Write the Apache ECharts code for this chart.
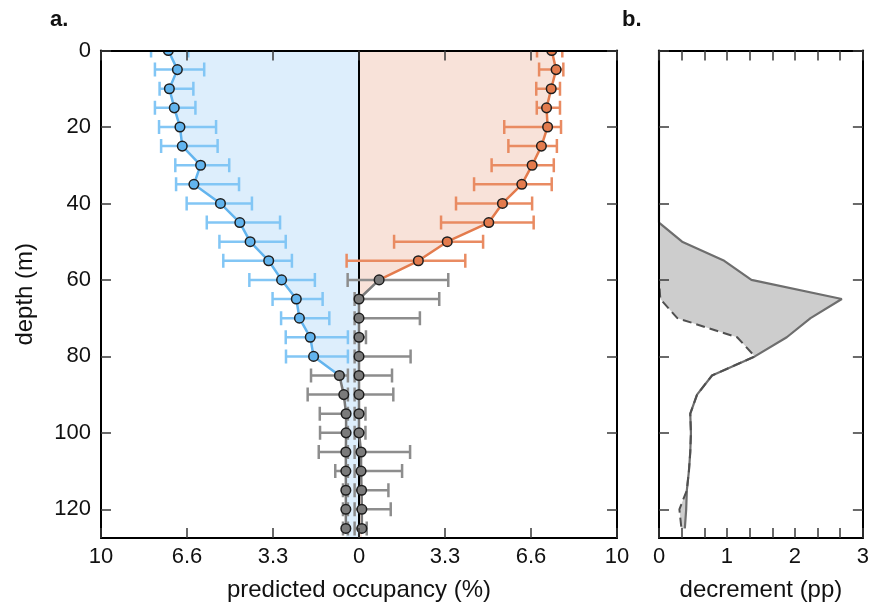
<!DOCTYPE html>
<html>
<head>
<meta charset="utf-8">
<script src="https://cdn.jsdelivr.net/npm/echarts@6/dist/echarts.min.js"></script>
<style>
  html, body { margin: 0; padding: 0; background: #ffffff; }
  #chart { width: 872px; height: 607px; }
</style>
</head>
<body>
<div id="chart"></div>
<script>
// Sampling depths (m)
const depths = [0, 5, 10, 15, 20, 25, 30, 35, 40, 45, 50, 55, 60, 65, 70, 75, 80, 85, 90, 95, 100, 105, 110, 115, 120, 125];

// Left-hand profile: predicted occupancy (%) with interval ends
const leftMean  = [7.39, 7.04, 7.35, 7.16, 6.94, 6.85, 6.14, 6.40, 5.37, 4.62, 4.22, 3.50, 3.00, 2.43, 2.31, 1.89, 1.76, 0.76, 0.59, 0.50, 0.50, 0.51, 0.51, 0.51, 0.51, 0.51];
const leftOuter = [8.06, 7.91, 7.73, 7.91, 7.75, 7.67, 7.12, 7.09, 6.68, 5.90, 5.41, 5.26, 4.25, 3.35, 3.02, 2.84, 2.83, 1.86, 1.99, 1.52, 1.51, 1.56, 0.92, 0.62, 0.62, 0.62];
const leftInner = [6.62, 6.00, 6.42, 6.34, 5.54, 5.48, 5.03, 4.65, 4.15, 3.06, 2.84, 2.60, 1.71, 1.41, 1.15, 0.43, 0.43, 0.43, 0.43, 0.43, 0.43, 0.43, 0.43, 0.43, 0.43, 0.43];

// Right-hand profile: predicted occupancy (%) with interval ends
const rightMean  = [7.47, 7.64, 7.45, 7.27, 7.31, 7.07, 6.71, 6.31, 5.56, 5.03, 3.42, 2.30, 0.78, 0.00, 0.00, 0.00, 0.00, 0.00, 0.00, 0.00, 0.00, 0.08, 0.08, 0.10, 0.11, 0.11];
const rightInner = [6.90, 6.98, 6.87, 6.89, 5.63, 5.79, 5.14, 4.46, 3.76, 3.18, 1.36, -0.48, -0.44, -0.17, -0.17, -0.17, -0.17, -0.17, -0.17, -0.17, -0.17, -0.17, -0.17, -0.17, -0.17, -0.17];
const rightOuter = [7.88, 7.92, 7.79, 7.79, 7.83, 7.67, 7.55, 7.47, 6.71, 6.77, 4.81, 4.12, 3.46, 3.11, 2.36, 0.27, 2.00, 1.28, 1.33, 0.25, 0.25, 1.98, 1.67, 1.14, 1.23, 0.30];

// Deepest depth still drawn in colour on each side (deeper points are grey)
const leftColouredTo = 80;
const rightColouredTo = 55;

// Panel b: decrement (pp), solid and dashed profiles
const decrementSolid  = [0, 0, 0, 0, 0, 0, 0, 0, 0, 0, 0.34, 0.96, 1.36, 2.69, 2.23, 1.88, 1.41, 0.78, 0.56, 0.46, 0.47, 0.46, 0.44, 0.41, 0.40, 0.38];
const decrementDashed = [0, 0, 0, 0, 0, 0, 0, 0, 0, 0, 0, 0, 0, 0.02, 0.27, 1.15, 1.41, 0.78, 0.56, 0.46, 0.47, 0.46, 0.44, 0.41, 0.30, 0.33];

// Axis ticks and labels
const occupancyTickValues = [-10, -20 / 3, -10 / 3, 0, 10 / 3, 20 / 3, 10];
const occupancyTickLabels = ['10', '6.6', '3.3', '0', '3.3', '6.6', '10'];
const depthTickValues = [0, 20, 40, 60, 80, 100, 120];
const decrementTickValues = [0, 1 / 3, 2 / 3, 1, 4 / 3, 5 / 3, 2, 7 / 3, 8 / 3, 3];
const decrementLabelValues = [0, 1, 2, 3];
const depthMax = 127.5;

const FONT = "'Liberation Sans', Arial, Helvetica, sans-serif";
const BLUE = '#62b4ee', BLUE_BAR = '#82c6f5', BLUE_FILL = '#ddeefc';
const ORANGE = '#e37b4d', ORANGE_BAR = '#e98b62', ORANGE_FILL = '#f8e2d9';
const GREY = '#7b7b7b', GREY_BAR = '#8d8d8d', GREY_LINE = '#7a7a7a';

const chart = echarts.init(document.getElementById('chart'), null, { renderer: 'canvas' });

const tickStyle = { show: true, inside: true, length: 10, lineStyle: { color: '#3a3a3a', width: 1.5 } };
const frameLine = { show: true, onZero: false, lineStyle: { color: '#000', width: 2 } };
const labelText = { fontSize: 22, color: '#111', fontFamily: FONT };
const nameText = { fontSize: 24, color: '#111', fontFamily: FONT };

function occLabel(v) {
  let best = 0;
  occupancyTickValues.forEach((t, i) => { if (Math.abs(t - v) < Math.abs(occupancyTickValues[best] - v)) best = i; });
  return occupancyTickLabels[best];
}

// Horizontal interval bar with end caps
function errorBarRenderer(colouredTo, colour) {
  return function (params, api) {
    const d = api.value(2);
    const a = api.coord([api.value(0), d]);
    const b = api.coord([api.value(1), d]);
    const c = d <= colouredTo ? colour : GREY_BAR;
    const h = 7;
    const st = { stroke: c, lineWidth: 2.5, fill: null };
    return {
      type: 'group',
      children: [
        { type: 'line', shape: { x1: a[0], y1: a[1], x2: b[0], y2: b[1] }, style: st },
        { type: 'line', shape: { x1: a[0], y1: a[1] - h, x2: a[0], y2: a[1] + h }, style: st },
        { type: 'line', shape: { x1: b[0], y1: b[1] - h, x2: b[0], y2: b[1] + h }, style: st }
      ]
    };
  };
}

function pointRenderer(colouredTo, colour) {
  return function (params, api) {
    const d = api.value(1);
    const p = api.coord([api.value(0), d]);
    return {
      type: 'circle',
      shape: { cx: p[0], cy: p[1], r: 4.8 },
      style: { fill: d <= colouredTo ? colour : GREY, stroke: '#1e1e1e', lineWidth: 1.5 }
    };
  };
}

// Filled region between x = 0 and a profile, carried down to the bottom of the axis
function fillRenderer(values, sign, colour) {
  return function (params, api) {
    const last = depths.length - 1;
    const pts = [api.coord([0, depths[0]])];
    depths.forEach((d, i) => pts.push(api.coord([sign * values[i], d])));
    pts.push(api.coord([sign * values[last], depthMax]));
    pts.push(api.coord([0, depthMax]));
    return { type: 'polygon', shape: { points: pts }, style: { fill: colour } };
  };
}

// Filled region between the two decrement profiles
function bandRenderer(params, api) {
  const pts = [];
  depths.forEach((d, i) => pts.push(api.coord([decrementSolid[i], d])));
  for (let i = depths.length - 1; i >= 0; i--) pts.push(api.coord([decrementDashed[i], depths[i]]));
  return { type: 'polygon', shape: { points: pts }, style: { fill: '#cdcdcd' } };
}

function profileLine(values, sign, fromDepth, toDepth) {
  const out = [];
  depths.forEach((d, i) => { if (d >= fromDepth && d <= toDepth) out.push([sign * values[i], d]); });
  return out;
}

const leftBars = depths.map((d, i) => [-leftInner[i], -leftOuter[i], d]);
const rightBars = depths.map((d, i) => [rightInner[i], rightOuter[i], d]);
const leftPts = depths.map((d, i) => [-leftMean[i], d]);
const rightPts = depths.map((d, i) => [rightMean[i], d]);

const option = {
  animation: false,
  backgroundColor: '#ffffff',
  textStyle: { fontFamily: FONT },
  title: [
    { text: 'a.', left: 50, top: 9, padding: 0, textStyle: { fontFamily: FONT, fontSize: 22, fontWeight: 'bold', color: '#111' } },
    { text: 'b.', left: 622, top: 9, padding: 0, textStyle: { fontFamily: FONT, fontSize: 22, fontWeight: 'bold', color: '#111' } }
  ],
  grid: [
    { left: 101, top: 50.5, width: 516, height: 487.5 },
    { left: 659, top: 50.5, width: 206, height: 487.5 }
  ],
  xAxis: [
    {
      gridIndex: 0, type: 'value', position: 'bottom', min: -10, max: 10, z: 10,
      axisLine: frameLine,
      axisTick: Object.assign({}, tickStyle, { customValues: occupancyTickValues }),
      axisLabel: Object.assign({ customValues: occupancyTickValues, formatter: occLabel, margin: 8 }, labelText),
      splitLine: { show: false },
      name: 'predicted occupancy (%)', nameLocation: 'middle', nameGap: 40, nameTextStyle: nameText
    },
    {
      gridIndex: 0, type: 'value', position: 'top', min: -10, max: 10, z: 10,
      axisLine: frameLine,
      axisTick: Object.assign({}, tickStyle, { customValues: occupancyTickValues }),
      axisLabel: { show: false }, splitLine: { show: false }
    },
    {
      gridIndex: 1, type: 'value', position: 'bottom', min: 0, max: 3, z: 10,
      axisLine: frameLine,
      axisTick: Object.assign({}, tickStyle, { customValues: decrementTickValues }),
      axisLabel: Object.assign({ customValues: decrementLabelValues, margin: 8 }, labelText),
      splitLine: { show: false },
      name: 'decrement (pp)', nameLocation: 'middle', nameGap: 40, nameTextStyle: nameText
    },
    {
      gridIndex: 1, type: 'value', position: 'top', min: 0, max: 3, z: 10,
      axisLine: frameLine,
      axisTick: Object.assign({}, tickStyle, { customValues: decrementTickValues }),
      axisLabel: { show: false }, splitLine: { show: false }
    }
  ],
  yAxis: [
    {
      gridIndex: 0, type: 'value', position: 'left', inverse: true, min: 0, max: depthMax, z: 10,
      axisLine: frameLine,
      axisTick: Object.assign({}, tickStyle, { customValues: depthTickValues }),
      axisLabel: Object.assign({ customValues: depthTickValues, margin: 10 }, labelText),
      splitLine: { show: false },
      name: 'depth (m)', nameLocation: 'middle', nameGap: 64, nameRotate: 90, nameTextStyle: nameText
    },
    {
      gridIndex: 0, type: 'value', position: 'right', inverse: true, min: 0, max: depthMax, z: 10,
      axisLine: frameLine,
      axisTick: Object.assign({}, tickStyle, { customValues: depthTickValues }),
      axisLabel: { show: false }, splitLine: { show: false }
    },
    {
      gridIndex: 1, type: 'value', position: 'left', inverse: true, min: 0, max: depthMax, z: 10,
      axisLine: frameLine,
      axisTick: Object.assign({}, tickStyle, { customValues: depthTickValues }),
      axisLabel: { show: false }, splitLine: { show: false }
    },
    {
      gridIndex: 1, type: 'value', position: 'right', inverse: true, min: 0, max: depthMax, z: 10,
      axisLine: frameLine,
      axisTick: Object.assign({}, tickStyle, { customValues: depthTickValues }),
      axisLabel: { show: false }, splitLine: { show: false }
    }
  ],
  series: [
    // shaded regions
    { type: 'custom', xAxisIndex: 0, yAxisIndex: 0, z: 1, clip: true, silent: true,
      data: [[0, 0]], renderItem: fillRenderer(leftMean, -1, BLUE_FILL) },
    { type: 'custom', xAxisIndex: 0, yAxisIndex: 0, z: 1, clip: true, silent: true,
      data: [[0, 0]], renderItem: fillRenderer(rightMean, 1, ORANGE_FILL) },

    // profile lines
    { type: 'line', xAxisIndex: 0, yAxisIndex: 0, z: 3, showSymbol: false, symbol: 'none', silent: true,
      data: profileLine(leftMean, -1, 0, leftColouredTo + 5), lineStyle: { color: BLUE, width: 2.5 },
      markLine: { silent: true, symbol: 'none', label: { show: false }, z: 2,
        lineStyle: { color: '#000', width: 2, type: 'solid' }, data: [{ xAxis: 0 }] } },
    { type: 'line', xAxisIndex: 0, yAxisIndex: 0, z: 3, showSymbol: false, symbol: 'none', silent: true,
      data: profileLine(leftMean, -1, leftColouredTo + 5, 200), lineStyle: { color: GREY_LINE, width: 2.5 } },
    { type: 'line', xAxisIndex: 0, yAxisIndex: 0, z: 3, showSymbol: false, symbol: 'none', silent: true,
      data: profileLine(rightMean, 1, 0, rightColouredTo + 5), lineStyle: { color: ORANGE, width: 2.5 } },
    { type: 'line', xAxisIndex: 0, yAxisIndex: 0, z: 3, showSymbol: false, symbol: 'none', silent: true,
      data: profileLine(rightMean, 1, rightColouredTo + 5, 200), lineStyle: { color: GREY_LINE, width: 2.5 } },

    // interval bars
    { type: 'custom', xAxisIndex: 0, yAxisIndex: 0, z: 4, clip: true, silent: true,
      encode: { x: [0, 1], y: 2 }, data: leftBars, renderItem: errorBarRenderer(leftColouredTo, BLUE_BAR) },
    { type: 'custom', xAxisIndex: 0, yAxisIndex: 0, z: 4, clip: true, silent: true,
      encode: { x: [0, 1], y: 2 }, data: rightBars, renderItem: errorBarRenderer(rightColouredTo, ORANGE_BAR) },

    // mean points
    { type: 'custom', xAxisIndex: 0, yAxisIndex: 0, z: 5, clip: true, silent: true,
      encode: { x: 0, y: 1 }, data: leftPts, renderItem: pointRenderer(leftColouredTo, BLUE) },
    { type: 'custom', xAxisIndex: 0, yAxisIndex: 0, z: 5, clip: true, silent: true,
      encode: { x: 0, y: 1 }, data: rightPts, renderItem: pointRenderer(rightColouredTo, ORANGE) },

    // panel b
    { type: 'custom', xAxisIndex: 2, yAxisIndex: 2, z: 1, clip: true, silent: true,
      data: [[0, 0]], renderItem: bandRenderer },
    { type: 'line', xAxisIndex: 2, yAxisIndex: 2, z: 3, showSymbol: false, symbol: 'none', silent: true,
      data: depths.map((d, i) => [decrementSolid[i], d]), lineStyle: { color: '#6e6e6e', width: 2.2 } },
    { type: 'line', xAxisIndex: 2, yAxisIndex: 2, z: 4, showSymbol: false, symbol: 'none', silent: true,
      data: depths.map((d, i) => [decrementDashed[i], d]), lineStyle: { color: '#505050', width: 2, type: [9, 5] } }
  ]
};

chart.setOption(option);
</script>
</body>
</html>
